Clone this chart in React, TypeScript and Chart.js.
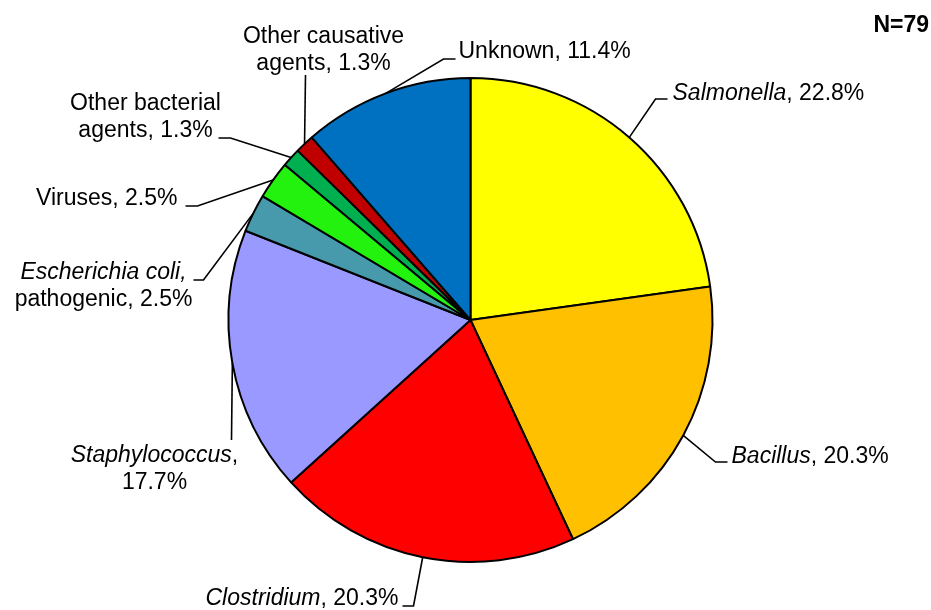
import React, { useEffect, useRef } from "react";
import { Chart, registerables } from "chart.js";

Chart.register(...registerables);

const categories = [
  "Salmonella",
  "Bacillus",
  "Clostridium",
  "Staphylococcus",
  "Escherichia coli, pathogenic",
  "Viruses",
  "Other bacterial agents",
  "Other causative agents",
  "Unknown",
];
const outbreakCounts = [18, 16, 16, 14, 2, 2, 1, 1, 9];
const percentLabels = ["22.8%", "20.3%", "20.3%", "17.7%", "2.5%", "2.5%", "1.3%", "1.3%", "11.4%"];
const totalLabel = "N=79";
const sliceColors = [
  "#FFFF00",
  "#FFC000",
  "#FF0000",
  "#9999FF",
  "#4799AC",
  "#22F20E",
  "#00B050",
  "#C00000",
  "#0070C0",
];

type Seg = { t: string; i?: boolean };
// Label text lines (segments: italic or not)
const labelLines: Seg[][][] = [
  [[{ t: "Salmonella", i: true }, { t: ", " + percentLabels[0] }]],
  [[{ t: "Bacillus", i: true }, { t: ", " + percentLabels[1] }]],
  [[{ t: "Clostridium", i: true }, { t: ", " + percentLabels[2] }]],
  [[{ t: "Staphylococcus", i: true }, { t: "," }], [{ t: percentLabels[3] }]],
  [[{ t: "Escherichia coli,", i: true }], [{ t: "pathogenic, " + percentLabels[4] }]],
  [[{ t: "Viruses, " + percentLabels[5] }]],
  [[{ t: "Other bacterial" }], [{ t: "agents, " + percentLabels[6] }]],
  [[{ t: "Other causative" }], [{ t: "agents, " + percentLabels[7] }]],
  [[{ t: "Unknown, " + percentLabels[8] }]],
];

// Label layout relative to pie centre (px): text anchor, alignment, leader points
type Layout = { x: number; y: number; align: "left" | "right" | "center"; pts: [number, number][] };
const labelLayout: Layout[] = [
  { x: 202, y: -220, align: "left", pts: [[185, -221], [197, -221]] },
  { x: 261, y: 143, align: "left", pts: [[245, 142], [257, 142]] },
  { x: -72, y: 285, align: "right", pts: [[-57, 286], [-68, 286]] },
  { x: -316, y: 142, align: "center", pts: [[-239, 120]] },
  { x: -367, y: -41, align: "center", pts: [[-267, -40], [-277, -40]] },
  { x: -293, y: -115, align: "right", pts: [[-273, -114], [-285, -114]] },
  { x: -325, y: -210, align: "center", pts: [[-240, -182], [-252, -182]] },
  { x: -147, y: -277, align: "center", pts: [[-165, -245]] },
  { x: -12, y: -262, align: "left", pts: [[-27, -261], [-15, -261]] },
];

const FONT_SIZE = 23;
const LINE_H = 27;
const FAMILY = '"Liberation Sans", Arial, sans-serif';

const labelPlugin = {
  id: "pieLabels",
  afterDatasetsDraw(chart: any) {
    const ctx: CanvasRenderingContext2D = chart.ctx;
    const meta = chart.getDatasetMeta(0);
    ctx.save();
    meta.data.forEach((arc: any, idx: number) => {
      const { x: cx, y: cy, startAngle, endAngle, outerRadius } = arc.getProps(
        ["x", "y", "startAngle", "endAngle", "outerRadius"],
        true
      );
      const mid = (startAngle + endAngle) / 2;
      const ax = cx + Math.cos(mid) * outerRadius;
      const ay = cy + Math.sin(mid) * outerRadius;
      const lay = labelLayout[idx];
      ctx.strokeStyle = "#000";
      ctx.lineWidth = 1.6;
      ctx.beginPath();
      ctx.moveTo(ax, ay);
      lay.pts.forEach(([px, py]) => ctx.lineTo(cx + px, cy + py));
      ctx.stroke();

      const lines = labelLines[idx];
      ctx.fillStyle = "#000";
      ctx.textBaseline = "alphabetic";
      ctx.textAlign = "left";
      lines.forEach((segs, li) => {
        let w = 0;
        const widths = segs.map((s) => {
          ctx.font = `${s.i ? "italic " : ""}${FONT_SIZE}px ${FAMILY}`;
          const m = ctx.measureText(s.t).width;
          w += m;
          return m;
        });
        let x = cx + lay.x;
        if (lay.align === "right") x -= w;
        else if (lay.align === "center") x -= w / 2;
        const y = cy + lay.y + li * LINE_H;
        segs.forEach((s, si) => {
          ctx.font = `${s.i ? "italic " : ""}${FONT_SIZE}px ${FAMILY}`;
          ctx.fillText(s.t, x, y);
          x += widths[si];
        });
      });
    });
    ctx.font = `bold ${FONT_SIZE}px ${FAMILY}`;
    ctx.textAlign = "right";
    ctx.fillText(totalLabel, chart.width - 2, 32);
    ctx.restore();
  },
};

export default function App() {
  const ref = useRef<HTMLCanvasElement | null>(null);
  useEffect(() => {
    if (!ref.current) return;
    const chart = new Chart(ref.current, {
      type: "pie",
      data: {
        labels: categories,
        datasets: [
          {
            data: outbreakCounts,
            backgroundColor: sliceColors,
            borderColor: "#000",
            borderWidth: 2,
          },
        ],
      },
      options: {
        responsive: false,
        animation: false,
        layout: { padding: { top: 77, bottom: 47, left: 227, right: 217 } },
        plugins: {
          legend: { display: false },
          tooltip: { enabled: false },
        },
      },
      plugins: [labelPlugin],
    });
    return () => chart.destroy();
  }, []);
  return (
    <div style={{ position: "absolute", left: 0, top: 0, width: 931, height: 610, background: "#fff" }}>
      <canvas ref={ref} width={931} height={610} />
    </div>
  );
}
